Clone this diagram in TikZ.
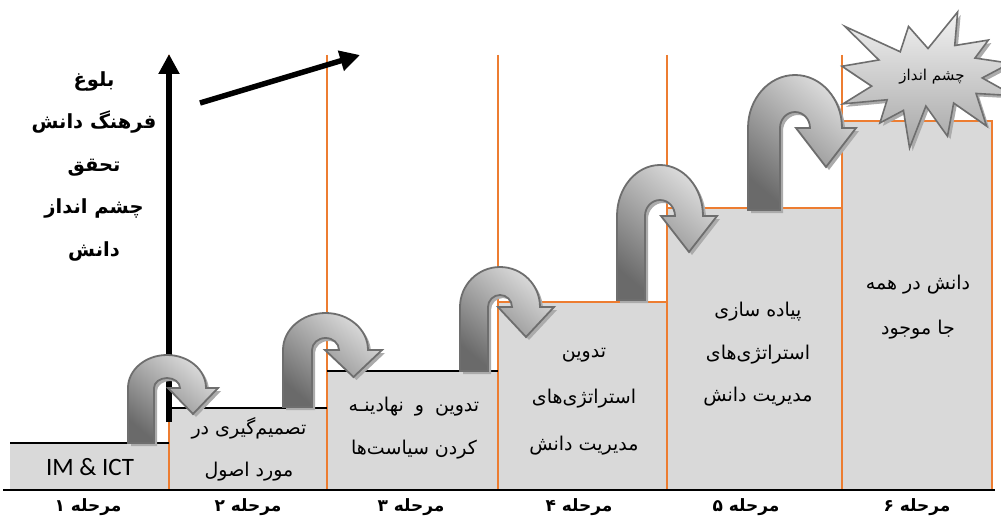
\documentclass[tikz,border=0pt]{standalone}
\usepackage{fontspec}
\setmainfont{Carlito}
\newfontfamily\fa[Script=Arabic]{DejaVu Sans}
\TeXXeTstate=1
\usetikzlibrary{arrows.meta}
\newcommand{\myRL}[1]{\beginR #1\endR}
\definecolor{boxgray}{HTML}{D9D9D9}
\definecolor{orng}{HTML}{ED7D31}
\definecolor{aedge}{HTML}{6E6E6E}
\definecolor{alight}{HTML}{DEDEDE}
\definecolor{adark}{HTML}{6A6A6A}
\definecolor{ashadow}{HTML}{ABABAB}
\definecolor{slight}{HTML}{F2F2F2}
\definecolor{sdark}{HTML}{A6A6A6}
% x0 w h yb yc ryo ryi e ytip
\newcommand{\uturnpath}[9]{(#1,#4) -- (#1,#5) arc[start angle=180,end angle=360,x radius={#2+#3/2},y radius=#6] -- ({#1+2*#2+#3+#8},#5) -- ({#1+1.5*#2+#3},#9) -- ({#1+#2+#3-#8},#5) -- ({#1+#2+#3},#5) arc[start angle=0,end angle=-180,x radius={#3/2},y radius=#7] -- ({#1+#2},#4) -- cycle}
\newcommand{\starpath}{(108,58) -- (145.22,0) -- (141.55,53.25) -- (183.80,44.57) -- (167.02,73.15) -- (210.97,81.37) -- (176.07,104.75) -- (216,132.90) -- (168.37,129.42) -- (181.45,180.95) -- (140.20,144.57) -- (132.47,197.37) -- (105.32,149.35) -- (84.85,216) -- (77.15,156.27) -- (47.62,176.17) -- (56.67,139.37) -- (1.35,145.87) -- (37.22,117.75) -- (0,86.15) -- (46.27,76.17) -- (3.70,22.95) -- (73.12,63.20) -- (83.52,22.95) -- cycle}
\begin{document}
\begin{tikzpicture}[x=1pt,y=-1pt,
  stagebox/.style={fill=boxgray,draw=none},
  orline/.style={draw=orng,line width=1.5pt},
  blkline/.style={draw=black,line width=2pt},
  bigarrow/.style={draw=black,line width=5.5pt,-{Triangle[length=20pt,width=20pt]}},
  ushadow/.style={fill=ashadow,draw=none},
  uarrow/.style={draw=aedge,line width=1.8pt,top color=alight,bottom color=adark,shading angle=-40},
  starshape/.style={draw=aedge,line width=1.6pt,top color=slight,bottom color=sdark},
  fatext/.style={font=\fa\fontsize{19}{43}\selectfont,align=center,inner sep=0pt},
  lefttext/.style={font=\fa\bfseries\fontsize{19.5}{42.5}\selectfont,align=center,inner sep=0pt},
  labeltext/.style={font=\fa\bfseries\fontsize{17}{19}\selectfont,inner sep=0pt}]
\useasboundingbox (0,0) rectangle (1001,519);
\fill[white] (0,0) rectangle (1001,519);
% stage boxes
\path[stagebox] (10,443) rectangle (169,490);
\path[stagebox] (169,408) rectangle (327,490);
\path[stagebox] (327,371) rectangle (498,490);
\path[stagebox] (498,302) rectangle (667,490);
\path[stagebox] (667,208) rectangle (842,490);
\path[stagebox] (842,121) rectangle (992,490);
% orange lines
\draw[orline] (169,55) -- (169,490);
\draw[orline] (327,55) -- (327,490);
\draw[orline] (498,55) -- (498,490);
\draw[orline] (667,55) -- (667,490);
\draw[orline] (842,55) -- (842,490);
\draw[orline] (498,302) -- (667,302);
\draw[orline] (667,208) -- (842,208);
\draw[orline] (842,121) -- (992,121) -- (992,490);
% black lines
\draw[blkline] (10,443) -- (169,443);
\draw[blkline] (169,408) -- (327,408);
\draw[blkline] (327,371) -- (498,371);
\draw[draw=black,line width=2.5pt] (3,490) -- (995,490);
% big black arrows
\coordinate (va0) at (169,422);
\coordinate (va1) at (169,54);
\draw[bigarrow] (va0) -- (va1);
\coordinate (da0) at (200,103);
\coordinate (da1) at (360,55);
\draw[bigarrow] (da0) -- (da1);
% U-turn arrows
\fill[ushadow,shift={(3,3)}] \uturnpath{128}{26}{26}{443}{388}{33}{10}{12}{414};
\draw[uarrow] \uturnpath{128}{26}{26}{443}{388}{33}{10}{12}{414};
\fill[ushadow,shift={(3,3)}] \uturnpath{283}{29}{27}{407}{350}{37}{12}{14}{377};
\draw[uarrow] \uturnpath{283}{29}{27}{407}{350}{37}{12}{14}{377};
\fill[ushadow,shift={(3,3)}] \uturnpath{460}{28}{24}{371}{307}{40}{12}{14}{337};
\draw[uarrow] \uturnpath{460}{28}{24}{371}{307}{40}{12}{14}{337};
\fill[ushadow,shift={(3,3)}] \uturnpath{617}{28}{30}{300}{216}{51}{16}{14}{252};
\draw[uarrow] \uturnpath{617}{28}{30}{300}{216}{51}{16}{14}{252};
\fill[ushadow,shift={(3,3)}] \uturnpath{748}{32}{30}{210}{128}{53}{16}{14}{167};
\draw[uarrow] \uturnpath{748}{32}{30}{210}{128}{53}{16}{14}{167};
% star
\begin{scope}[shift={(845,15)},xscale=0.7963,yscale=0.6296]
\fill[ashadow] \starpath;
\end{scope}
\begin{scope}[shift={(842,12)},xscale=0.7963,yscale=0.6296]
\draw[starshape] \starpath;
\end{scope}
\node[font=\fa\fontsize{15}{17}\selectfont,inner sep=0pt] (startext) at (932,77) {\myRL{چشم انداز}};
% left text
\node[lefttext] (ltext) at (94,166) {\myRL{بلوغ}\\\myRL{فرهنگ دانش}\\\myRL{تحقق}\\\myRL{چشم انداز}\\\myRL{دانش}};
% box texts
\node[font=\fontsize{25}{29}\selectfont,inner sep=0pt] (t1) at (90,467) {IM \& ICT};
\node[fatext,font=\fa\fontsize{19}{42}\selectfont] (t2) at (249,449) {\myRL{تصمیم‌گیری در}\\\myRL{مورد اصول}};
\node[fatext] (t3) at (414,428.5) {\myRL{تدوین\hspace{5pt} و \hspace{5pt}نهادینـه}\\\myRL{کردن سیاست‌ها}};
\node[fatext,font=\fa\fontsize{19}{46.5}\selectfont] (t4) at (584,401.5) {\myRL{تدوین}\\\myRL{استراتژی‌های}\\\myRL{مدیریت دانش}};
\node[fatext,font=\fa\fontsize{19}{42.5}\selectfont] (t5) at (758,354.5) {\myRL{پیاده سازی}\\\myRL{استراتژی‌های}\\\myRL{مدیریت دانش}};
\node[fatext,font=\fa\fontsize{19}{45}\selectfont] (t6) at (918,307.5) {\myRL{دانش در همه}\\\myRL{جا موجود}};
% stage labels
\node[labeltext] (l1) at (88,507) {\myRL{مرحله ۱}};
\node[labeltext] (l2) at (248,507) {\myRL{مرحله ۲}};
\node[labeltext] (l3) at (411,507) {\myRL{مرحله ۳}};
\node[labeltext] (l4) at (579,507) {\myRL{مرحله ۴}};
\node[labeltext] (l5) at (746,507) {\myRL{مرحله ۵}};
\node[labeltext] (l6) at (917,507) {\myRL{مرحله ۶}};
\end{tikzpicture}
\end{document}
